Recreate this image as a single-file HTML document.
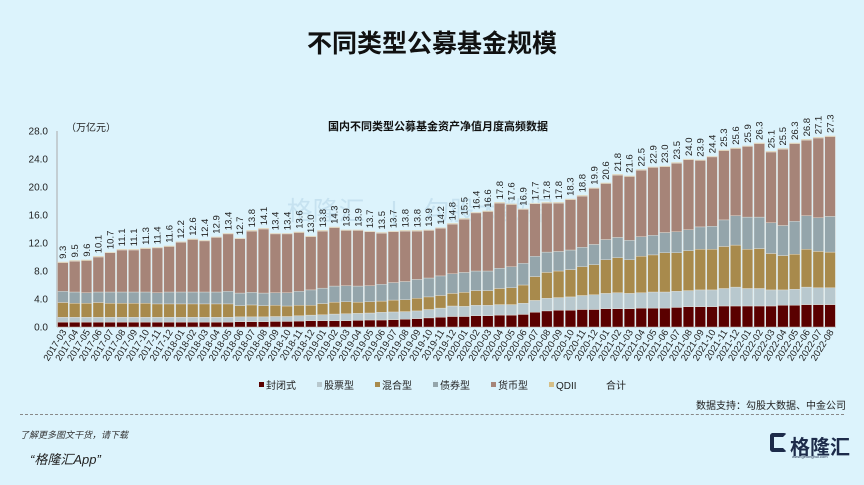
<!DOCTYPE html>
<html><head><meta charset="utf-8">
<style>
html,body{margin:0;padding:0;}
body{width:864px;height:485px;background:#dcf3fc;font-family:"Liberation Sans","Noto Sans CJK SC",sans-serif;overflow:hidden;position:relative;}
.t{position:absolute;white-space:nowrap;}
</style></head><body>
<div class="t" style="left:0;width:864px;text-align:center;top:24px;font-size:25px;font-weight:bold;color:#111;">不同类型公募基金规模</div>
<svg id="chart" width="864" height="485" style="position:absolute;left:0;top:0" xmlns="http://www.w3.org/2000/svg"></svg>
<div class="t" style="right:18px;top:397px;font-size:10px;color:#222;">数据支持：勾股大数据、中金公司</div>
<div style="position:absolute;left:20px;right:20px;top:414px;border-top:1px dashed #888;"></div>
<div class="t" style="left:20px;top:428px;font-size:9px;font-style:italic;color:#333;">了解更多图文干货，请下载</div>
<div class="t" style="left:30px;top:449px;font-size:13px;font-style:italic;color:#222;">“格隆汇App”</div>
<div style="position:absolute;left:770px;top:431px;">
  <div style="position:absolute;left:0;top:2px;width:17px;height:19px;border:4px solid #1d2b4a;border-right-color:transparent;border-radius:3px;box-sizing:border-box;"></div>
  <div class="t" style="left:20px;top:0;font-size:20px;font-weight:bold;color:#1d2b4a;">格隆汇</div>
  <div class="t" style="left:22px;top:23px;font-size:4px;color:#1d2b4a;">www.gelonghui.com</div>
</div>
<script>
const months=["2017-03","2017-04","2017-05","2017-06","2017-07","2017-08","2017-09","2017-10","2017-11","2017-12","2018-01","2018-02","2018-03","2018-04","2018-05","2018-06","2018-07","2018-08","2018-09","2018-10","2018-11","2018-12","2019-01","2019-02","2019-03","2019-04","2019-05","2019-06","2019-07","2019-08","2019-09","2019-10","2019-11","2019-12","2020-01","2020-02","2020-03","2020-04","2020-05","2020-06","2020-07","2020-08","2020-09","2020-10","2020-11","2020-12","2021-01","2021-02","2021-03","2021-04","2021-05","2021-06","2021-07","2021-08","2021-09","2021-10","2021-11","2021-12","2022-01","2022-02","2022-03","2022-04","2022-05","2022-06","2022-07","2022-08"];
const closedFund=[.7,.7,.7,.7,.7,.7,.7,.7,.7,.7,.7,.7,.7,.7,.7,.75,.75,.75,.8,.8,.85,.9,.9,.9,.9,.95,1.0,1.0,1.05,1.1,1.2,1.3,1.4,1.5,1.5,1.6,1.6,1.7,1.7,1.8,2.1,2.3,2.4,2.4,2.5,2.5,2.6,2.6,2.6,2.7,2.7,2.7,2.8,2.9,2.9,2.9,3.0,3.0,3.0,3.0,3.0,3.1,3.1,3.2,3.2,3.2];
const stockFund=[.7,.7,.7,.7,.7,.7,.7,.7,.7,.7,.7,.7,.7,.7,.7,.7,.7,.7,.7,.7,.75,.8,.85,.95,1.0,1.0,1.0,1.1,1.1,1.1,1.1,1.2,1.3,1.5,1.45,1.5,1.5,1.5,1.5,1.6,1.7,1.8,1.8,1.9,2.0,2.1,2.2,2.3,2.2,2.2,2.3,2.3,2.3,2.3,2.4,2.4,2.5,2.7,2.5,2.5,2.3,2.2,2.3,2.5,2.4,2.4];
const mixedFund=[2.1,2.0,2.0,2.1,2.0,2.0,2.0,2.0,1.9,1.9,1.9,1.9,1.9,1.9,1.9,1.6,1.7,1.6,1.6,1.5,1.5,1.4,1.6,1.7,1.7,1.6,1.6,1.6,1.7,1.7,1.8,1.8,1.8,1.8,2.0,2.1,2.1,2.3,2.4,2.6,3.4,3.7,3.8,3.9,4.1,4.3,4.8,5.0,4.8,5.2,5.3,5.6,5.5,5.7,5.8,5.8,6.0,6.0,5.6,5.7,5.2,4.9,5.0,5.4,5.2,5.1];
const bondFund=[1.6,1.6,1.5,1.5,1.6,1.6,1.6,1.6,1.6,1.7,1.7,1.7,1.7,1.7,1.8,1.8,1.8,1.8,1.8,1.9,2.0,2.2,2.2,2.3,2.3,2.3,2.3,2.4,2.5,2.6,2.7,2.7,2.8,2.8,2.85,2.8,2.8,2.9,3.0,3.1,2.9,2.9,2.8,2.8,2.8,2.9,2.9,2.9,2.8,2.8,2.8,2.9,3.0,3.0,3.2,3.3,3.8,4.2,4.6,4.5,4.4,4.3,4.7,4.8,4.8,5.1];
const moneyFund=[4.1,4.4,4.6,5.0,5.6,6.0,6.0,6.2,6.4,6.5,7.1,7.5,7.3,7.8,8.2,7.75,8.75,9.15,8.4,8.4,8.4,7.6,8.15,8.35,7.9,7.95,7.7,7.3,7.25,7.2,6.9,6.8,6.8,7.1,7.6,8.3,8.5,9.3,8.9,7.7,7.5,7.0,6.9,7.2,7.3,8.0,8.0,8.9,9.1,9.5,9.7,9.4,9.8,10.0,9.5,9.9,9.9,9.6,10.1,10.5,10.1,10.9,11.1,10.8,11.4,11.4];
const qdiiFund=[.1,.1,.1,.1,.1,.1,.1,.1,.1,.1,.1,.1,.1,.1,.1,.1,.1,.1,.1,.1,.1,.1,.1,.1,.1,.1,.1,.1,.1,.1,.1,.1,.1,.1,.1,.1,.1,.1,.1,.1,.1,.1,.1,.1,.1,.1,.1,.1,.1,.1,.1,.1,.1,.1,.1,.1,.1,.1,.1,.1,.1,.1,.1,.1,.1,.1];
const totals=[9.3,9.5,9.6,10.1,10.7,11.1,11.1,11.3,11.4,11.6,12.2,12.6,12.4,12.9,13.4,12.7,13.8,14.1,13.4,13.4,13.6,13.0,13.8,14.3,13.9,13.9,13.7,13.5,13.7,13.8,13.8,13.9,14.2,14.8,15.5,16.4,16.6,17.8,17.6,16.9,17.7,17.8,17.8,18.3,18.8,19.9,20.6,21.8,21.6,22.5,22.9,23.0,23.5,24.0,23.9,24.4,25.3,25.6,25.9,26.3,25.1,25.5,26.3,26.8,27.1,27.3];
const yTicks=[0,4,8,12,16,20,24,28];
const seriesNames=["封闭式","股票型","混合型","债券型","货币型","QDII"];

const svg=document.getElementById('chart');
const NS='http://www.w3.org/2000/svg';
const X0=57,X1=836,Y0=327,Y1=131,YMAX=28;
const band=(X1-X0)/months.length;
const yS=v=>Y0-(v/YMAX)*(Y0-Y1);
const xC=i=>X0+band*(i+0.5);
function mk(tag,attrs,txt){const e=document.createElementNS(NS,tag);for(const k in attrs)e.setAttribute(k,attrs[k]);if(txt!==undefined)e.textContent=txt;svg.appendChild(e);return e;}
const colors=["#5a0000","#b8c8ce","#a88a4c","#94a5ab","#a68478","#d6bf88"];
const series=[closedFund,stockFund,mixedFund,bondFund,moneyFund,qdiiFund];
const keys=["closed","stock","mixed","bond","money","qdii"];

let wm=mk('text',{x:420,y:220,'font-size':26,fill:'#c6e2f0','text-anchor':'middle'},'格隆汇　|　勾股大数据');



let ya=mk('line',{x1:X0,y1:Y1,x2:X0,y2:Y0,stroke:'#aaa','stroke-width':1});


let xa=mk('line',{x1:X0,y1:Y0,x2:X1,y2:Y0,stroke:'#aaa','stroke-width':1});


yTicks.forEach(v=>{
  const t=mk('text',{x:48,y:yS(v)+3.5,'font-size':10,fill:'#222','text-anchor':'end'},v.toFixed(1));
  
  
});
let ut=mk('text',{x:66,y:131,'font-size':10,fill:'#222'},'（万亿元）');


let ct=mk('text',{x:438,y:130,'font-size':11,'font-weight':'bold',fill:'#111','text-anchor':'middle'},'国内不同类型公募基金资产净值月度高频数据');



months.forEach((m,i)=>{
  let acc=0;const bw=band-1.2,x=xC(i)-bw/2;
  series.forEach((s,k)=>{
    const y1=yS(acc+s[i]),y0=yS(acc);
    const r=mk('rect',{x:x,y:y1,width:bw,height:Math.max(0,y0-y1),fill:colors[k],stroke:'#e8e4dc','stroke-width':0.4});
    
    
    acc+=s[i];
  });
  const lx=xC(i)+3.3,ly=yS(totals[i])-3;
  const vl=mk('text',{x:lx,y:ly,'font-size':9.5,fill:'#222',transform:`rotate(-90 ${lx} ${ly})`},totals[i].toFixed(1));
  
  
  const tx=xC(i)+4,ty=332;
  const xl=mk('text',{x:tx,y:ty,'font-size':9.5,fill:'#222','text-anchor':'end',transform:`rotate(-58 ${tx} ${ty})`},m);
  
  
});

const lgX=[259,317,375,433,491,549];
seriesNames.forEach((n,k)=>{
  const r=mk('rect',{x:lgX[k],y:382,width:5,height:5,fill:colors[k]});
  
  
  const t=mk('text',{x:lgX[k]+7,y:389,'font-size':10,fill:'#222'},n);
  
  
});
const lt=mk('text',{x:606,y:389,'font-size':10,fill:'#222'},'合计');


</script>
</body></html>
